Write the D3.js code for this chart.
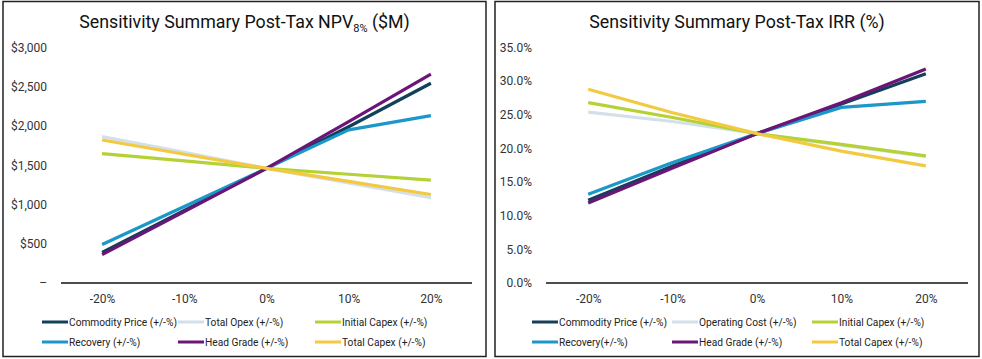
<!DOCTYPE html>
<html>
<head>
<meta charset="utf-8">
<script src="https://cdn.jsdelivr.net/npm/d3@7"></script>
<style>
  body { margin: 0; background: #fff; }
  svg { display: block; font-family: Roboto, "Liberation Sans", sans-serif; }
</style>
</head>
<body>
<svg id="chart" width="982" height="359"></svg>
<script>
// x categories, shared by both charts
const sensitivities = ["-20%", "-10%", "0%", "10%", "20%"];

// NPV8% ($M)
const npvNames = ["Commodity Price (+/-%)", "Total Opex (+/-%)", "Initial Capex (+/-%)",
                  "Recovery (+/-%)", "Head Grade (+/-%)", "Total Capex (+/-%)"];
const npvCommodity = [390, 925, 1460, 1990, 2545];
const npvOpex      = [1865, 1665, 1460, 1275, 1088];
const npvInitCapex = [1648, 1555, 1460, 1385, 1310];
const npvRecovery  = [490, 975, 1460, 1950, 2133];
const npvHeadGrade = [362, 910, 1460, 2055, 2660];
const npvTotCapex  = [1822, 1640, 1460, 1295, 1127];
const npvTicks = [0, 500, 1000, 1500, 2000, 2500, 3000];

// IRR (%)
const irrNames = ["Commodity Price (+/-%)", "Operating Cost (+/-%)", "Initial Capex (+/-%)",
                  "Recovery(+/-%)", "Head Grade (+/-%)", "Total Capex (+/-%)"];
const irrCommodity = [12.3, 17.4, 22.2, 26.6, 31.1];
const irrOpCost    = [25.4, 24.0, 22.2, 20.5, 18.8];
const irrInitCapex = [26.8, 24.6, 22.2, 20.6, 18.9];
const irrRecovery  = [13.2, 17.9, 22.2, 26.1, 27.0];
const irrHeadGrade = [11.9, 17.1, 22.2, 26.8, 31.8];
const irrTotCapex  = [28.8, 25.3, 22.2, 19.6, 17.4];
const irrTicks = [0, 5, 10, 15, 20, 25, 30, 35];

const colors = ["#123f5a", "#d3e0ea", "#b4d235", "#1b97c9", "#6b1676", "#f3c93f"];

const svg = d3.select("#chart");

function drawPanel(opts) {
    const g = svg.append("g").attr("transform", `translate(${opts.left},0)`);

    // panel border
    g.append("rect")
        .attr("x", 1).attr("y", 1.5)
        .attr("width", opts.width - 2).attr("height", 355)
        .attr("fill", "#fff")
        .attr("stroke", "#222")
        .attr("stroke-width", 1.5);

    const title = g.append("text")
        .attr("x", opts.width / 2)
        .attr("y", 28)
        .attr("text-anchor", "middle")
        .attr("font-size", 17.8)
        .attr("fill", "#111");
    opts.title(title);

    const x = d3.scalePoint()
        .domain(sensitivities)
        .range([opts.plotX0, opts.plotX1])
        .padding(0.5);

    const y = d3.scaleLinear()
        .domain([0, opts.yMax])
        .range([283, 47.5]);

    // y labels (no axis line)
    const yAxis = g.append("g")
        .attr("transform", `translate(${opts.plotX0 - 11},0)`)
        .call(d3.axisLeft(y).tickValues(opts.ticks).tickSize(0).tickFormat(opts.fmt));
    yAxis.select(".domain").remove();
    yAxis.selectAll("text")
        .attr("font-size", 12)
        .attr("fill", "#333")
        .attr("font-family", "Roboto, sans-serif");

    // x labels
    const xAxis = g.append("g")
        .attr("transform", `translate(0,283)`)
        .call(d3.axisBottom(x).tickSize(0).tickPadding(11));
    xAxis.select(".domain").remove();
    xAxis.selectAll("text")
        .attr("font-size", 12)
        .attr("fill", "#333")
        .attr("font-family", "Roboto, sans-serif");

    const line = d3.line()
        .x((d, i) => x(sensitivities[i]))
        .y(d => y(d));

    g.append("g").selectAll("path")
        .data(opts.series)
        .enter()
        .append("path")
        .attr("d", d => line(d))
        .attr("fill", "none")
        .attr("stroke", (d, i) => colors[i])
        .attr("stroke-width", 3.2)
        .attr("stroke-linejoin", "round");

    // baseline
    g.append("line")
        .attr("x1", opts.plotX0).attr("x2", opts.plotX1)
        .attr("y1", 283).attr("y2", 283)
        .attr("stroke", "#4d4d4d")
        .attr("stroke-width", 1.8);

    // legend, 3 columns x 2 rows
    const leg = g.append("g").selectAll("g")
        .data(opts.names)
        .enter()
        .append("g")
        .attr("transform", (d, i) => `translate(${opts.legCols[i % 3]},${i < 3 ? 322 : 342})`);
    leg.append("line")
        .attr("x1", 0).attr("x2", 26)
        .attr("stroke", (d, i) => colors[i])
        .attr("stroke-width", 3);
    leg.append("text")
        .attr("x", 27)
        .attr("dy", "0.35em")
        .attr("font-size", 10.2)
        .attr("fill", "#222")
        .text(d => d);
}

drawPanel({
    left: 2, width: 485,
    plotX0: 59, plotX1: 470,
    yMax: 3000,
    ticks: npvTicks,
    fmt: d => d === 0 ? "–" : "$" + d3.format(",")(d),
    series: [npvCommodity, npvOpex, npvInitCapex, npvRecovery, npvHeadGrade, npvTotCapex],
    names: npvNames,
    legCols: [40, 176, 313],
    title: t => {
        t.append("tspan").text("Sensitivity Summary Post-Tax NPV");
        t.append("tspan").attr("font-size", 11).attr("dy", 4).text("8%");
        t.append("tspan").attr("dy", -4).text(" ($M)");
    }
});

drawPanel({
    left: 494, width: 486,
    plotX0: 52, plotX1: 474,
    yMax: 35,
    ticks: irrTicks,
    fmt: d => d3.format(".1f")(d) + "%",
    series: [irrCommodity, irrOpCost, irrInitCapex, irrRecovery, irrHeadGrade, irrTotCapex],
    names: irrNames,
    legCols: [38, 178, 318],
    title: t => t.text("Sensitivity Summary Post-Tax IRR (%)")
});
</script>
</body>
</html>
